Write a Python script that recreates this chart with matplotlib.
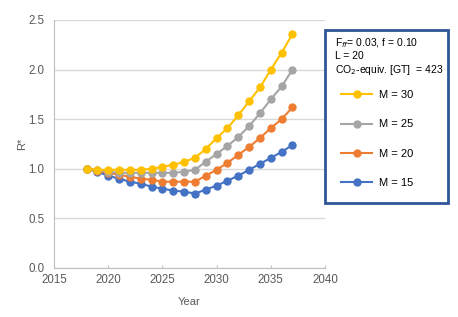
import numpy as np
import matplotlib.pyplot as plt
from matplotlib.lines import Line2D
from matplotlib.patches import Rectangle

plt.rcParams['font.family'] = ['Liberation Sans', 'DejaVu Sans']

# Datos
years = list(range(2018, 2038))
r_m30 = [1.00, 0.99, 0.99, 0.99, 0.99, 0.99, 1.00, 1.02, 1.04, 1.07, 1.11,
         1.20, 1.31, 1.41, 1.54, 1.68, 1.82, 2.00, 2.17, 2.36]
r_m25 = [1.00, 0.99, 0.97, 0.96, 0.96, 0.96, 0.96, 0.96, 0.96, 0.97, 0.99,
         1.07, 1.15, 1.23, 1.32, 1.43, 1.56, 1.70, 1.83, 2.00]
r_m20 = [1.00, 0.98, 0.96, 0.94, 0.92, 0.90, 0.89, 0.87, 0.87, 0.87, 0.87,
         0.93, 0.99, 1.06, 1.14, 1.22, 1.31, 1.41, 1.50, 1.62]
r_m15 = [1.00, 0.97, 0.93, 0.90, 0.87, 0.85, 0.82, 0.80, 0.78, 0.77, 0.75,
         0.79, 0.83, 0.88, 0.93, 0.99, 1.05, 1.11, 1.17, 1.24]

series = [('M = 30', r_m30, '#FFC000'),
          ('M = 25', r_m25, '#A5A5A5'),
          ('M = 20', r_m20, '#ED7D31'),
          ('M = 15', r_m15, '#4472C4')]

x_ticks = [2015, 2020, 2025, 2030, 2035, 2040]
y_ticks = [0.0, 0.5, 1.0, 1.5, 2.0, 2.5]

fig = plt.figure(figsize=(4.58, 3.17), dpi=100)
ax = fig.add_axes([54 / 458, 49 / 317, 271 / 458, 248 / 317])

# Dibujamos primero la serie de abajo para que la amarilla quede encima
for label, vals, color in reversed(series):
    ax.plot(years, vals, color=color, lw=1.5, marker='o', ms=5, label=label)

ax.set_xlim(2015, 2040)
ax.set_ylim(0, 2.5)
ax.set_xticks(x_ticks)
ax.set_yticks(y_ticks)
ax.set_yticklabels([f'{v:.1f}' for v in y_ticks])
ax.grid(axis='y', color='#D9D9D9', lw=1)
ax.set_axisbelow(True)

for s in ['top', 'right']:
    ax.spines[s].set_visible(False)
for s in ['left', 'bottom']:
    ax.spines[s].set_color('#BFBFBF')
ax.tick_params(axis='y', length=0, labelsize=8.3, labelcolor='#595959', pad=7)
ax.tick_params(axis='x', direction='in', length=2, color='#BFBFBF', labelsize=8.3,
               labelcolor='#595959', pad=4)
ax.set_xlabel('Year', fontsize=8, color='#595959', labelpad=8)
ax.set_ylabel('R*', fontsize=8, color='#595959', labelpad=1)

# Cuadro de la leyenda
fig.patches.append(Rectangle((325 / 458, 1 - 203 / 317), 123 / 458, 173 / 317,
                             transform=fig.transFigure, fill=False,
                             edgecolor='#2F5597', lw=2))
fig.text(335 / 458, 1 - 36 / 317,
         'F$_{ff}$= 0.03, f = 0.10\nL = 20\nCO$_2$-equiv. [GT]  = 423',
         fontsize=7.5, va='top', ha='left', linespacing=1.2)

handles = [Line2D([], [], color=c, lw=1.5, marker='o', ms=5) for _, _, c in series]
labels = [l for l, _, _ in series]
fig.legend(handles, labels, loc='upper left',
           bbox_to_anchor=(341 / 458, 1 - 90 / 317), bbox_transform=fig.transFigure,
           frameon=False, fontsize=8, handlelength=2.8, handletextpad=0.6,
           labelspacing=1.75, borderpad=0, borderaxespad=0)

fig.savefig('out.png', dpi=100)
